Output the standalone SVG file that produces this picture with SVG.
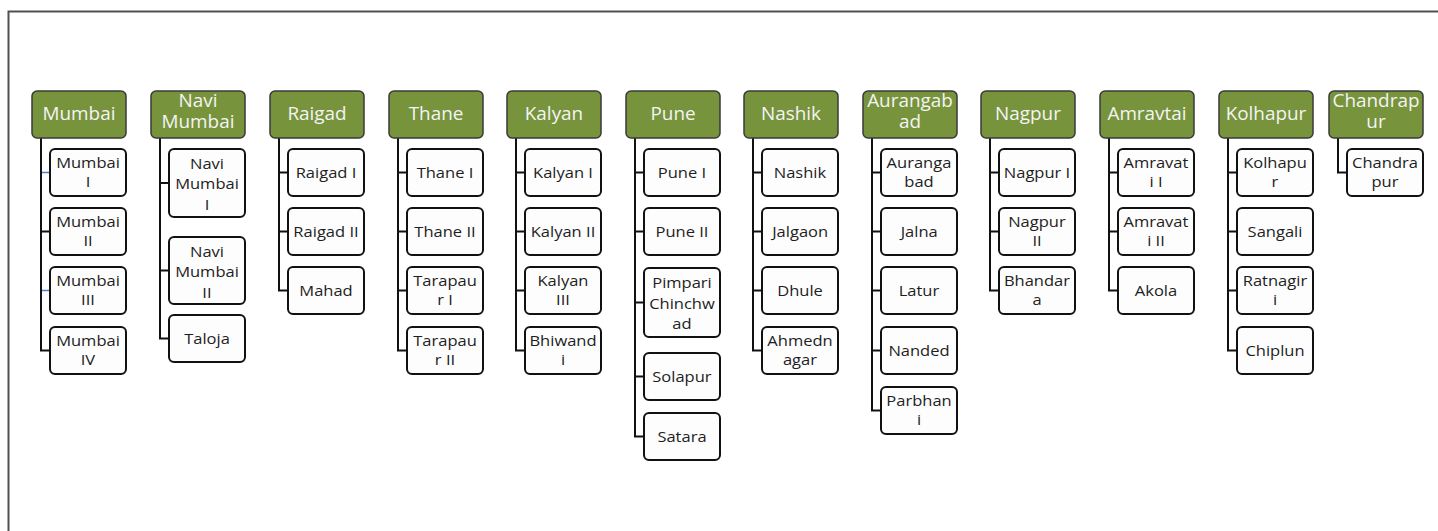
<svg xmlns="http://www.w3.org/2000/svg" width="1438" height="531" viewBox="0 0 1438 531">
<style>
.hb{fill:#77933c;stroke:#3a3a3a;stroke-width:1.5}
.cb{fill:#fdfdfd;stroke:#111;stroke-width:2}
.h{font-family:"Open Sans","Liberation Sans",sans-serif;font-size:17.5px;fill:#f4f4f4;text-anchor:middle;transform-box:fill-box;transform-origin:center;transform:scaleX(1.08)}
.c{font-family:"Open Sans","Liberation Sans",sans-serif;font-size:14px;fill:#1e1e1e;text-anchor:middle;transform-box:fill-box;transform-origin:center;transform:scaleX(1.18)}
.ln{fill:none;stroke:#111;stroke-width:2}
.bl{fill:none;stroke:#4f81bd;stroke-width:1.5}
.fr{fill:none;stroke:#505050;stroke-width:2}
</style>
<rect x="0" y="0" width="1438" height="531" fill="#ffffff"/>
<path class="fr" d="M8.5 531 V11.5 H1438"/>
<g id="connectors">
<path class="ln" d="M41 138 V350.5 H50 M41 231.5 H50"/>
<path class="bl" d="M42 172.5 H50 M42 290.5 H50"/>
<path class="ln" d="M160 138 V338.5 H169 M160 183 H169 M160 270.5 H169"/>
<path class="ln" d="M279 138 V290.5 H288 M279 172.5 H288 M279 231.5 H288"/>
<path class="ln" d="M398 138 V350.5 H407 M398 172.5 H407 M398 231.5 H407 M398 290.5 H407"/>
<path class="ln" d="M516 138 V350.5 H525 M516 172.5 H525 M516 231.5 H525 M516 290.5 H525"/>
<path class="ln" d="M635 138 V436.5 H644 M635 172.5 H644 M635 231.5 H644 M635 302.5 H644 M635 376.5 H644"/>
<path class="ln" d="M753 138 V350.5 H762 M753 172.5 H762 M753 231.5 H762 M753 290.5 H762"/>
<path class="ln" d="M872 138 V410.5 H881 M872 172.5 H881 M872 231.5 H881 M872 290.5 H881 M872 350.5 H881"/>
<path class="ln" d="M990 138 V290.5 H999 M990 172.5 H999 M990 231.5 H999"/>
<path class="ln" d="M1109 138 V290.5 H1118 M1109 172.5 H1118 M1109 231.5 H1118"/>
<path class="ln" d="M1228 138 V350.5 H1237 M1228 172.5 H1237 M1228 231.5 H1237 M1228 290.5 H1237"/>
<path class="ln" d="M1338 138 V172.5 H1347"/>
</g>
<g id="mumbai">
<rect class="hb" x="32" y="91" width="94" height="47" rx="5"/>
<text class="h" x="79" y="120.5">Mumbai</text>
</g>
<g id="mumbai-1"><rect class="cb" x="50" y="149" width="76" height="47" rx="5"/><text class="c" x="88" y="168">Mumbai</text><text class="c" x="88" y="187">I</text></g>
<g id="mumbai-2"><rect class="cb" x="50" y="208" width="76" height="47" rx="5"/><text class="c" x="88" y="227">Mumbai</text><text class="c" x="88" y="246">II</text></g>
<g id="mumbai-3"><rect class="cb" x="50" y="267" width="76" height="47" rx="5"/><text class="c" x="88" y="286">Mumbai</text><text class="c" x="88" y="305">III</text></g>
<g id="mumbai-4"><rect class="cb" x="50" y="327" width="76" height="47" rx="5"/><text class="c" x="88" y="346">Mumbai</text><text class="c" x="88" y="365">IV</text></g>

<g id="navi-mumbai">
<rect class="hb" x="151" y="91" width="94" height="47" rx="5"/>
<text class="h" x="198" y="107">Navi</text><text class="h" x="198" y="128">Mumbai</text>
</g>
<g id="navi-mumbai-1"><rect class="cb" x="169" y="149" width="76" height="68" rx="5"/><text class="c" x="207" y="169">Navi</text><text class="c" x="207" y="189.5">Mumbai</text><text class="c" x="207" y="210">I</text></g>
<g id="navi-mumbai-2"><rect class="cb" x="169" y="237" width="76" height="67" rx="5"/><text class="c" x="207" y="257">Navi</text><text class="c" x="207" y="277.5">Mumbai</text><text class="c" x="207" y="298">II</text></g>
<g id="taloja"><rect class="cb" x="169" y="315" width="76" height="47" rx="5"/><text class="c" x="207" y="344">Taloja</text></g>

<g id="raigad">
<rect class="hb" x="270" y="91" width="94" height="47" rx="5"/>
<text class="h" x="317" y="120.5">Raigad</text>
</g>
<g id="raigad-1"><rect class="cb" x="288" y="149" width="76" height="47" rx="5"/><text class="c" x="326" y="178.5">Raigad I</text></g>
<g id="raigad-2"><rect class="cb" x="288" y="208" width="76" height="47" rx="5"/><text class="c" x="326" y="237.5">Raigad II</text></g>
<g id="mahad"><rect class="cb" x="288" y="267" width="76" height="47" rx="5"/><text class="c" x="326" y="296.5">Mahad</text></g>

<g id="thane">
<rect class="hb" x="389" y="91" width="94" height="47" rx="5"/>
<text class="h" x="436" y="120.5">Thane</text>
</g>
<g id="thane-1"><rect class="cb" x="407" y="149" width="76" height="47" rx="5"/><text class="c" x="445" y="178.5">Thane I</text></g>
<g id="thane-2"><rect class="cb" x="407" y="208" width="76" height="47" rx="5"/><text class="c" x="445" y="237.5">Thane II</text></g>
<g id="tarapaur-1"><rect class="cb" x="407" y="267" width="76" height="47" rx="5"/><text class="c" x="445" y="286">Tarapau</text><text class="c" x="445" y="305">r I</text></g>
<g id="tarapaur-2"><rect class="cb" x="407" y="327" width="76" height="47" rx="5"/><text class="c" x="445" y="346">Tarapau</text><text class="c" x="445" y="365">r II</text></g>

<g id="kalyan">
<rect class="hb" x="507" y="91" width="94" height="47" rx="5"/>
<text class="h" x="554" y="120.5">Kalyan</text>
</g>
<g id="kalyan-1"><rect class="cb" x="525" y="149" width="76" height="47" rx="5"/><text class="c" x="563" y="178.5">Kalyan I</text></g>
<g id="kalyan-2"><rect class="cb" x="525" y="208" width="76" height="47" rx="5"/><text class="c" x="563" y="237.5">Kalyan II</text></g>
<g id="kalyan-3"><rect class="cb" x="525" y="267" width="76" height="47" rx="5"/><text class="c" x="563" y="286">Kalyan</text><text class="c" x="563" y="305">III</text></g>
<g id="bhiwandi"><rect class="cb" x="525" y="327" width="76" height="47" rx="5"/><text class="c" x="563" y="346">Bhiwand</text><text class="c" x="563" y="365">i</text></g>

<g id="pune">
<rect class="hb" x="626" y="91" width="94" height="47" rx="5"/>
<text class="h" x="673" y="120.5">Pune</text>
</g>
<g id="pune-1"><rect class="cb" x="644" y="149" width="76" height="47" rx="5"/><text class="c" x="682" y="178.5">Pune I</text></g>
<g id="pune-2"><rect class="cb" x="644" y="208" width="76" height="47" rx="5"/><text class="c" x="682" y="237.5">Pune II</text></g>
<g id="pimpari"><rect class="cb" x="644" y="268" width="76" height="69" rx="5"/><text class="c" x="682" y="288.5">Pimpari</text><text class="c" x="682" y="309">Chinchw</text><text class="c" x="682" y="329.5">ad</text></g>
<g id="solapur"><rect class="cb" x="644" y="353" width="76" height="47" rx="5"/><text class="c" x="682" y="382.5">Solapur</text></g>
<g id="satara"><rect class="cb" x="644" y="413" width="76" height="47" rx="5"/><text class="c" x="682" y="442.5">Satara</text></g>

<g id="nashik">
<rect class="hb" x="744" y="91" width="94" height="47" rx="5"/>
<text class="h" x="791" y="120.5">Nashik</text>
</g>
<g id="nashik-1"><rect class="cb" x="762" y="149" width="76" height="47" rx="5"/><text class="c" x="800" y="178.5">Nashik</text></g>
<g id="jalgaon"><rect class="cb" x="762" y="208" width="76" height="47" rx="5"/><text class="c" x="800" y="237.5">Jalgaon</text></g>
<g id="dhule"><rect class="cb" x="762" y="267" width="76" height="47" rx="5"/><text class="c" x="800" y="296.5">Dhule</text></g>
<g id="ahmednagar"><rect class="cb" x="762" y="327" width="76" height="47" rx="5"/><text class="c" x="800" y="346">Ahmedn</text><text class="c" x="800" y="365">agar</text></g>

<g id="aurangabad">
<rect class="hb" x="863" y="91" width="94" height="47" rx="5"/>
<text class="h" x="910" y="107">Aurangab</text><text class="h" x="910" y="128">ad</text>
</g>
<g id="aurangabad-1"><rect class="cb" x="881" y="149" width="76" height="47" rx="5"/><text class="c" x="919" y="168">Auranga</text><text class="c" x="919" y="187">bad</text></g>
<g id="jalna"><rect class="cb" x="881" y="208" width="76" height="47" rx="5"/><text class="c" x="919" y="237.5">Jalna</text></g>
<g id="latur"><rect class="cb" x="881" y="267" width="76" height="47" rx="5"/><text class="c" x="919" y="296.5">Latur</text></g>
<g id="nanded"><rect class="cb" x="881" y="327" width="76" height="47" rx="5"/><text class="c" x="919" y="356.5">Nanded</text></g>
<g id="parbhani"><rect class="cb" x="881" y="387" width="76" height="47" rx="5"/><text class="c" x="919" y="406">Parbhan</text><text class="c" x="919" y="425">i</text></g>

<g id="nagpur">
<rect class="hb" x="981" y="91" width="94" height="47" rx="5"/>
<text class="h" x="1028" y="120.5">Nagpur</text>
</g>
<g id="nagpur-1"><rect class="cb" x="999" y="149" width="76" height="47" rx="5"/><text class="c" x="1037" y="178.5">Nagpur I</text></g>
<g id="nagpur-2"><rect class="cb" x="999" y="208" width="76" height="47" rx="5"/><text class="c" x="1037" y="227">Nagpur</text><text class="c" x="1037" y="246">II</text></g>
<g id="bhandara"><rect class="cb" x="999" y="267" width="76" height="47" rx="5"/><text class="c" x="1037" y="286">Bhandar</text><text class="c" x="1037" y="305">a</text></g>

<g id="amravtai">
<rect class="hb" x="1100" y="91" width="94" height="47" rx="5"/>
<text class="h" x="1147" y="120.5">Amravtai</text>
</g>
<g id="amravati-1"><rect class="cb" x="1118" y="149" width="76" height="47" rx="5"/><text class="c" x="1156" y="168">Amravat</text><text class="c" x="1156" y="187">i I</text></g>
<g id="amravati-2"><rect class="cb" x="1118" y="208" width="76" height="47" rx="5"/><text class="c" x="1156" y="227">Amravat</text><text class="c" x="1156" y="246">i II</text></g>
<g id="akola"><rect class="cb" x="1118" y="267" width="76" height="47" rx="5"/><text class="c" x="1156" y="296.5">Akola</text></g>

<g id="kolhapur">
<rect class="hb" x="1219" y="91" width="94" height="47" rx="5"/>
<text class="h" x="1266" y="120.5">Kolhapur</text>
</g>
<g id="kolhapur-1"><rect class="cb" x="1237" y="149" width="76" height="47" rx="5"/><text class="c" x="1275" y="168">Kolhapu</text><text class="c" x="1275" y="187">r</text></g>
<g id="sangali"><rect class="cb" x="1237" y="208" width="76" height="47" rx="5"/><text class="c" x="1275" y="237.5">Sangali</text></g>
<g id="ratnagiri"><rect class="cb" x="1237" y="267" width="76" height="47" rx="5"/><text class="c" x="1275" y="286">Ratnagir</text><text class="c" x="1275" y="305">i</text></g>
<g id="chiplun"><rect class="cb" x="1237" y="327" width="76" height="47" rx="5"/><text class="c" x="1275" y="356.5">Chiplun</text></g>

<g id="chandrapur">
<rect class="hb" x="1329" y="91" width="94" height="47" rx="5"/>
<text class="h" x="1376" y="107">Chandrap</text><text class="h" x="1376" y="128">ur</text>
</g>
<g id="chandrapur-1"><rect class="cb" x="1347" y="149" width="76" height="47" rx="5"/><text class="c" x="1385" y="168">Chandra</text><text class="c" x="1385" y="187">pur</text></g>
</svg>
